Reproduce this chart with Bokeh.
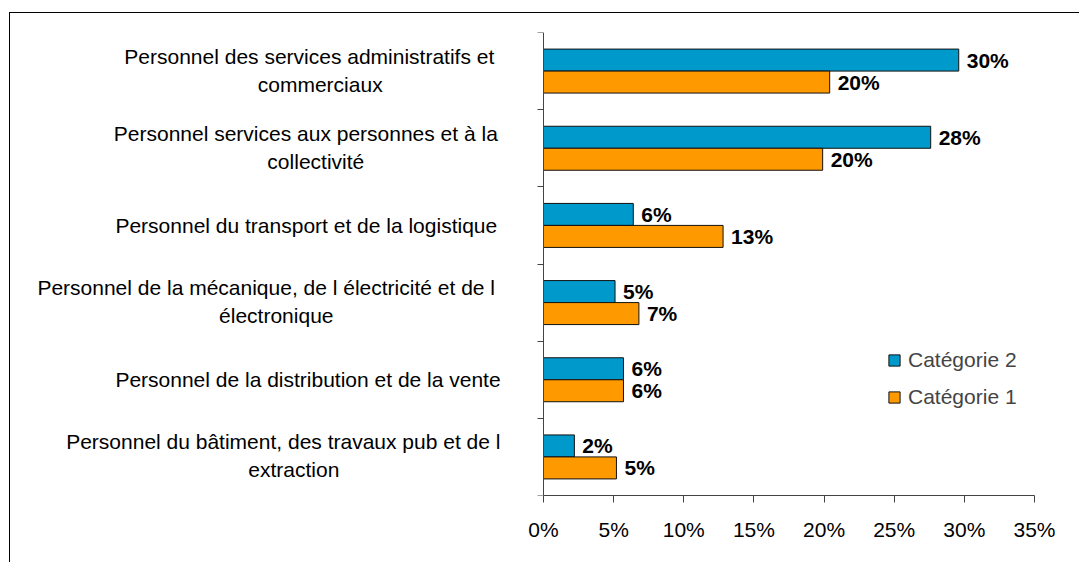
from bokeh.plotting import figure
from bokeh.models import (ColumnDataSource, FixedTicker, PrintfTickFormatter,
                          Legend, LegendItem, Range1d)
from bokeh.embed import file_html
from bokeh.resources import INLINE
from bokeh.core.properties import value

# ---------------- data ----------------
categories = [
    "Personnel des services administratifs et\ncommerciaux",
    "Personnel services aux personnes et à la\ncollectivité",
    "Personnel du transport et de la logistique",
    "Personnel de la mécanique, de l électricité et de l\nélectronique",
    "Personnel de la distribution et de la vente",
    "Personnel du bâtiment, des travaux pub et de l\nextraction",
]
cat2_values = [29.6, 27.6, 6.4, 5.1, 5.7, 2.2]   # Catégorie 2 (blue)
cat1_values = [20.4, 19.9, 12.8, 6.8, 5.7, 5.2]  # Catégorie 1 (orange)
series_names = ["Catégorie 2", "Catégorie 1"]
x_ticks = [0, 5, 10, 15, 20, 25, 30, 35]

# ---------------- layout / style ----------------
FONT = "Liberation Sans"
BLUE = "#0099CC"
ORANGE = "#FF9900"
BAR_H = 0.285
PAGE_LEFT = 10          # canvas left on the page (after margin + border)
MIN_LEFT = 12
FRAME_W = 491
AXIS_X = 543            # screen x of the 0 % axis
# screen x-centre of each label line (layout)
line_centers = [[308.8, 319.7], [305.3, 315.3], [305.8], [265.7, 275.8], [307.5], [282.8, 293.3]]

n = len(categories)
centers = [n - i - 0.5 for i in range(n)]
x_max = x_ticks[-1]
px_per_unit = FRAME_W / x_max
frame_left = PAGE_LEFT + MIN_LEFT
x_start = -(AXIS_X - frame_left) / px_per_unit
frame_w_total = AXIS_X + FRAME_W - frame_left

W = 1070
p = figure(width=W, height=550, x_range=Range1d(x_start, x_max), y_range=Range1d(0, n),
           output_backend="svg", toolbar_location=None,
           min_border_left=MIN_LEFT, min_border_right=W - MIN_LEFT - frame_w_total,
           min_border_top=19, min_border_bottom=68)
p.styles = {"border-left": "1px solid #000", "border-top": "1px solid #000"}
p.margin = (12, 0, 0, 9)
p.outline_line_color = None
p.xgrid.visible = False
p.ygrid.visible = False
p.background_fill_color = "white"
p.border_fill_color = "white"

src2 = ColumnDataSource(dict(y=[c + BAR_H / 2 for c in centers], v=cat2_values,
                             lab=[f"{round(v)}%" for v in cat2_values]))
src1 = ColumnDataSource(dict(y=[c - BAR_H / 2 for c in centers], v=cat1_values,
                             lab=[f"{round(v)}%" for v in cat1_values]))

r2 = p.hbar(y="y", left=0, right="v", height=BAR_H, source=src2,
            fill_color=BLUE, line_color="#111111", line_width=1)
r1 = p.hbar(y="y", left=0, right="v", height=BAR_H, source=src1,
            fill_color=ORANGE, line_color="#111111", line_width=1)

for src in (src2, src1):
    p.text(x="v", y="y", text="lab", source=src, x_offset=8,
           text_baseline="middle", text_align="left",
           text_font=value(FONT), text_font_style="bold",
           text_font_size="21px", text_color="black")

# category labels (text glyphs placed left of the 0 axis)
lab_x, lab_y, lab_t, lab_dx, lab_dy = [], [], [], [], []
for c, text, xs in zip(centers, categories, line_centers):
    lines = text.split("\n")
    offs = [0] if len(lines) == 1 else [-15, 13]
    for line, cx, dy in zip(lines, xs, offs):
        lab_x.append(0)
        lab_y.append(c)
        lab_t.append(line)
        lab_dx.append(cx - AXIS_X)
        lab_dy.append(dy)
p.text(x="x", y="y", text="t", x_offset="dx", y_offset="dy",
       source=ColumnDataSource(dict(x=lab_x, y=lab_y, t=lab_t, dx=lab_dx, dy=lab_dy)),
       text_align="center", text_baseline="middle",
       text_font=value(FONT), text_font_size="21px", text_color="black")

# axes
p.xaxis.bounds = (0, x_max)
p.xaxis.ticker = FixedTicker(ticks=x_ticks)
p.xaxis.formatter = PrintfTickFormatter(format="%d%%")
p.xaxis.major_tick_in = 0
p.xaxis.major_tick_out = 7
p.xaxis.minor_tick_line_color = None
p.xaxis.major_label_text_font = FONT
p.xaxis.major_label_text_font_size = "21px"
p.xaxis.major_label_text_color = "black"
p.xaxis.major_label_standoff = 15
p.xaxis.axis_line_color = "#444444"
p.xaxis.major_tick_line_color = "#444444"

p.yaxis.fixed_location = 0
p.yaxis.ticker = FixedTicker(ticks=list(range(n + 1)))
p.yaxis.major_label_overrides = {i: "" for i in range(n + 1)}
p.yaxis.major_label_text_font_size = "0px"
p.yaxis.major_label_standoff = 0
p.yaxis.major_tick_in = 0
p.yaxis.major_tick_out = 6
p.yaxis.minor_tick_line_color = None
p.yaxis.axis_line_color = "#444444"
p.yaxis.major_tick_line_color = "#444444"

legend = Legend(items=[LegendItem(label=series_names[0], renderers=[r2]),
                       LegendItem(label=series_names[1], renderers=[r1])],
                location=(887 - frame_left, 86), padding=0, margin=0, spacing=13,
                glyph_width=14, glyph_height=14, label_standoff=7,
                label_text_font=FONT, label_text_font_size="21px",
                border_line_color=None, background_fill_alpha=0)
p.add_layout(legend)

open("out.html", "w").write(file_html(p, INLINE))
